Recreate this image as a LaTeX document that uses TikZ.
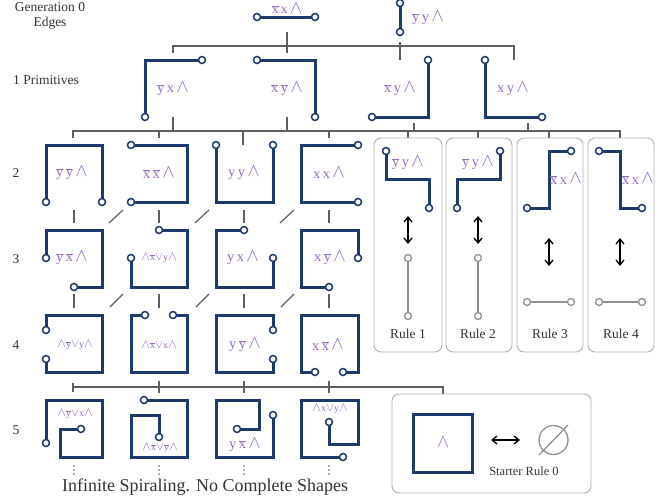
\documentclass[tikz,border=0pt]{standalone}
\usepackage{fontspec}
\usepackage{graphicx}
\setmainfont{Liberation Serif}
\usetikzlibrary{arrows.meta}
\definecolor{navy}{RGB}{28,58,110}
\definecolor{lav}{RGB}{150,110,190}
\definecolor{treegray}{RGB}{95,95,95}
\definecolor{boxgray}{RGB}{175,175,175}
\definecolor{wiregray}{RGB}{145,145,145}
\newcommand{\xb}{$\overline{\hbox{x}}$}
\newcommand{\yb}{$\overline{\hbox{y}}$}
\newcommand{\wg}{\raisebox{0.1ex}{\scalebox{1.3}{$\wedge$}}}
\newcommand{\vg}{\scalebox{1.2}{$\vee$}}
\tikzset{
  wire/.style={draw=navy, line width=3pt, line join=miter},
  term/.style={circle, draw=navy, fill=white, line width=1.5pt, inner sep=0pt, minimum size=7pt},
  gwire/.style={draw=wiregray, line width=2.5pt},
  gterm/.style={circle, draw=wiregray, fill=white, line width=1.3pt, inner sep=0pt, minimum size=7pt},
  lbl/.style={text=lav, font=\fontsize{14.5}{16}\selectfont, inner sep=0pt},
  slbl/.style={text=lav, font=\fontsize{10}{12}\selectfont, inner sep=0pt},
  tree/.style={draw=treegray, line width=1.2pt},
  rulebox/.style={draw=boxgray, line width=0.9pt, rounded corners=7pt},
  txt/.style={text=black!80, font=\fontsize{13.5}{15}\selectfont, inner sep=0pt},
  dotc/.style={fill=treegray, draw=none},
  dbl/.style={draw=black, line width=1.3pt, {Straight Barb[length=5pt,width=8pt]}-{Straight Barb[length=5pt,width=8pt]}},
}
\begin{document}
\begin{tikzpicture}[x=1pt,y=-1pt]
\useasboundingbox (0,0) rectangle (668,501);
% left captions
\node[txt, align=center] (g0) at (50,16) {Generation 0\\Edges};
\node[txt] (g1) at (46,80) {1 Primitives};
\node[txt] (r2) at (16,173) {2};
\node[txt] (r3) at (16,259) {3};
\node[txt] (r4) at (16,345) {4};
\node[txt] (r5) at (16,430) {5};

% tree connectors
\draw[tree] (173,53) -- (173,46) -- (514,46) -- (514,60);
\draw[tree] (287,32) -- (287,53);
\draw[tree] (400,42) -- (400,60);
\draw[tree] (73,138) -- (73,131) -- (620,131) -- (620,138);
\foreach \x in {159,329,408,478,549} \draw[tree] (\x,131) -- (\x,138);
\draw[tree] (243,131) -- (243,145);
\draw[tree] (173,117) -- (173,131);
\draw[tree] (287,117) -- (287,131);
\draw[tree] (414,123) -- (414,131);
\draw[tree] (528,123) -- (528,131);
\foreach \x in {74,159,244,329} {
  \draw[tree] (\x,210) -- (\x,223);
  \draw[tree] (\x,294) -- (\x,308);
}
\foreach \x in {109,195,280} {
  \draw[tree] (\x,223) -- (\x+14,210);
  \draw[tree] (\x+1,307) -- (\x+14,294);
}
\draw[tree] (73,387) -- (443,387) -- (443,394);
\draw[tree] (73,383) -- (73,392);
\foreach \x in {159,244,329} \draw[tree] (\x,381) -- (\x,393);

% generation 0
\draw[wire] (257,17) -- (315,17);
\node[term] at (257,17) {};
\node[term] at (315,17) {};
\node[lbl, anchor=north, font=\fontsize{13.5}{15}\selectfont] at (287,2.5) {\xb\,x\,\wg};
\draw[wire] (400,3) -- (400,32);
\node[term] at (400,3) {};
\node[term] at (400,32) {};
\node[lbl] at (428,18) {\yb\,y\,\wg};

% generation 1
\draw[wire] (202,60) -- (145,60) -- (145,117);
\node[term] at (202,60) {}; \node[term] at (145,117) {};
\node[lbl] at (173,89) {\yb\,x\,\wg};
\draw[wire] (257,60) -- (315,60) -- (315,117);
\node[term] at (257,60) {}; \node[term] at (315,117) {};
\node[lbl] at (287,89) {\xb\,\yb\,\wg};
\draw[wire] (428,60) -- (428,117) -- (372,117);
\node[term] at (428,60) {}; \node[term] at (372,117) {};
\node[lbl] at (400,89) {\xb\,y\,\wg};
\draw[wire] (485,60) -- (485,117) -- (542,117);
\node[term] at (485,60) {}; \node[term] at (542,117) {};
\node[lbl] at (513,89) {x\,y\,\wg};

% row 2
\draw[wire] (46,202) -- (46,145) -- (102,145) -- (102,202);
\node[term] at (46,202) {}; \node[term] at (102,202) {};
\node[lbl] at (72,173) {\yb\,\yb\,\wg};
\draw[wire] (131,145) -- (187,145) -- (187,202) -- (131,202);
\node[term] at (131,145) {}; \node[term] at (131,202) {};
\node[lbl] at (159,173) {\xb\,\xb\,\wg};
\draw[wire] (216,145) -- (216,202) -- (273,202) -- (273,145);
\node[term] at (216,145) {}; \node[term] at (273,145) {};
\node[lbl] at (244,173) {y\,y\,\wg};
\draw[wire] (358,145) -- (301,145) -- (301,202) -- (358,202);
\node[term] at (358,145) {}; \node[term] at (358,202) {};
\node[lbl] at (329,173) {x\,x\,\wg};

% row 3
\draw[wire] (46,258) -- (46,230) -- (102,230) -- (102,287) -- (74,287);
\node[term] at (46,258) {}; \node[term] at (74,287) {};
\node[lbl] at (72,258) {\yb\,\xb\,\wg};
\draw[wire] (131,258) -- (131,287) -- (187,287) -- (187,230) -- (159,230);
\node[term] at (131,258) {}; \node[term] at (159,230) {};
\node[slbl] at (159,258) {\wg\xb\vg y\wg};
\draw[wire] (244,230) -- (216,230) -- (216,287) -- (273,287) -- (273,258);
\node[term] at (244,230) {}; \node[term] at (273,258) {};
\node[lbl] at (243,258) {y\,x\,\wg};
\draw[wire] (358,258) -- (358,230) -- (301,230) -- (301,287) -- (329,287);
\node[term] at (358,258) {}; \node[term] at (329,287) {};
\node[lbl] at (330,258) {x\,\yb\,\wg};

% row 4
\draw[wire] (46,330) -- (46,315) -- (102,315) -- (102,372) -- (46,372) -- (46,359);
\node[term] at (46,330) {}; \node[term] at (46,359) {};
\node[slbl] at (75,345) {\wg\yb\vg y\wg};
\draw[wire] (145,315) -- (131,315) -- (131,372) -- (187,372) -- (187,315) -- (173,315);
\node[term] at (145,315) {}; \node[term] at (173,315) {};
\node[slbl] at (159,345) {\wg\xb\vg x\wg};
\draw[wire] (273,330) -- (273,315) -- (216,315) -- (216,372) -- (273,372) -- (273,359);
\node[term] at (273,330) {}; \node[term] at (273,359) {};
\node[lbl] at (245,345) {y\,\yb\,\wg};
\draw[wire] (315,372) -- (301,372) -- (301,315) -- (358,315) -- (358,372) -- (343,372);
\node[term] at (315,372) {}; \node[term] at (343,372) {};
\node[lbl] at (328,345) {x\,\xb\,\wg};

% row 5
\draw[wire] (46,443) -- (46,400) -- (102,400) -- (102,457) -- (60,457) -- (60,429) -- (81,429);
\node[term] at (46,443) {}; \node[term] at (81,429) {};
\node[slbl] at (75,414) {\wg\yb\vg x\wg};
\draw[wire] (144,400) -- (187,400) -- (187,457) -- (131,457) -- (131,415) -- (159,415) -- (159,437);
\node[term] at (144,400) {}; \node[term] at (159,437) {};
\node[slbl] at (160,448) {\wg\xb\vg\yb\wg};
\draw[wire] (273,415) -- (273,457) -- (216,457) -- (216,400) -- (259,400) -- (259,429) -- (237,429);
\node[term] at (273,415) {}; \node[term] at (237,429) {};
\node[lbl] at (245,445) {y\,\xb\,\wg};
\draw[wire] (343,457) -- (301,457) -- (301,400) -- (358,400) -- (358,444) -- (329,444) -- (329,422);
\node[term] at (343,457) {}; \node[term] at (329,422) {};
\node[slbl] at (330,409) {\wg x\vg y\wg};

\foreach \x in {74,159,244,329} {
  \foreach \y in {466,470,474} \fill[dotc] (\x,\y) circle (0.8);
}
\node[txt, font=\fontsize{18}{20}\selectfont] (inf) at (205,487) {Infinite Spiraling. No Complete Shapes};

% rule boxes
\draw[rulebox] (374,138) rectangle (442,352);
\draw[rulebox] (446,138) rectangle (512,352);
\draw[rulebox] (517,138) rectangle (583,352);
\draw[rulebox] (588,138) rectangle (654,352);

% rule 1
\draw[wire] (386,151) -- (386,179) -- (429,179) -- (429,208);
\node[term] at (386,151) {}; \node[term] at (429,208) {};
\node[lbl] at (408,163) {\yb\,y\,\wg};
\draw[dbl] (408,216) -- (408,244);
\draw[gwire] (408,258) -- (408,316);
\node[gterm] at (408,258) {}; \node[gterm] at (408,316) {};
\node[txt] at (408,334) {Rule 1};
% rule 2
\draw[wire] (500,151) -- (500,179) -- (457,179) -- (457,208);
\node[term] at (500,151) {}; \node[term] at (457,208) {};
\node[lbl] at (478,163) {\yb\,y\,\wg};
\draw[dbl] (478,216) -- (478,244);
\draw[gwire] (478,258) -- (478,316);
\node[gterm] at (478,258) {}; \node[gterm] at (478,316) {};
\node[txt] at (478,334) {Rule 2};
% rule 3
\draw[wire] (527,208) -- (549,208) -- (549,151) -- (571,151);
\node[term] at (527,208) {}; \node[term] at (571,151) {};
\node[lbl] at (566,179) {\xb\,x\,\wg};
\draw[dbl] (549,238) -- (549,266);
\draw[gwire] (527,302) -- (571,302);
\node[gterm] at (527,302) {}; \node[gterm] at (571,302) {};
\node[txt] at (550,334) {Rule 3};
% rule 4
\draw[wire] (599,151) -- (620,151) -- (620,208) -- (642,208);
\node[term] at (599,151) {}; \node[term] at (642,208) {};
\node[lbl] at (638,179) {\xb\,x\,\wg};
\draw[dbl] (620,238) -- (620,266);
\draw[gwire] (599,302) -- (642,302);
\node[gterm] at (599,302) {}; \node[gterm] at (642,302) {};
\node[txt] at (621,334) {Rule 4};

% starter rule
\draw[rulebox] (392,394) rectangle (591,493);
\draw[wire] (413,414) rectangle (472,472);
\node[lbl] at (443,443) {\wg};
\draw[dbl] (491,440) -- (520,440);
\draw[draw=wiregray, line width=1.3pt] (553.5,440) circle (14.5);
\draw[draw=wiregray, line width=1.3pt] (539,455) -- (568,425);
\node[txt, font=\fontsize{12.5}{14}\selectfont] at (524,471) {Starter Rule 0};
\end{tikzpicture}
\end{document}
